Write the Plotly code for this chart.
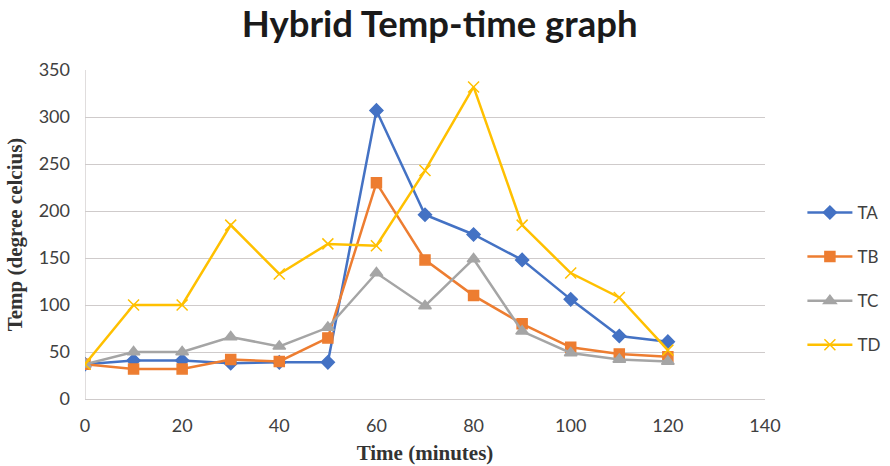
import plotly.graph_objects as go

time_min = [0, 10, 20, 30, 40, 50, 60, 70, 80, 90, 100, 110, 120]
TA = [37, 41, 41, 38, 39, 39, 307, 196, 175, 148, 106, 67, 61]
TB = [37, 32, 32, 42, 40, 65, 230, 148, 110, 80, 55, 48, 45]
TC = [37, 50, 50, 66, 56, 76, 134, 99, 149, 72, 49, 42, 40]
TD = [37, 100, 100, 185, 133, 165, 163, 243, 332, 185, 134, 108, 52]

series = [
    ("TA", TA, "#4472C4", "diamond", 10),
    ("TB", TB, "#ED7D31", "square", 10),
    ("TC", TC, "#A5A5A5", "triangle-up", 11),
    ("TD", TD, "#FFC000", "x-thin-open", 11),
]

fig = go.Figure()
for name, ys, color, sym, size in series:
    fig.add_trace(go.Scatter(
        x=time_min, y=ys, name=name, mode="lines+markers",
        legendgroup=name,
        line=dict(color=color, width=2.5),
        marker=dict(symbol=sym, size=size, color=color,
                    line=dict(color=color, width=1.5)),
    ))

fig.update_layout(
    width=890, height=466,
    paper_bgcolor="white", plot_bgcolor="white",
    margin=dict(l=85, r=125, t=70, b=67, autoexpand=False),
    title=dict(text="<b>Hybrid Temp-time graph</b>", x=0.494, xanchor="center",
               y=0.948, yanchor="middle",
               font=dict(family="Lato", size=36.5, color="#1a1a1a")),
    legend=dict(x=1.055, xanchor="left", y=0.365, yanchor="middle",
                font=dict(family="Lato", size=17, color="#404040"),
                tracegroupgap=19, itemwidth=45, bgcolor="rgba(0,0,0,0)"),
    xaxis=dict(range=[0, 140], tickvals=[0, 20, 40, 60, 80, 100, 120, 140],
               showgrid=False, zeroline=False, automargin=False,
               showline=False, ticks="", ticklabelstandoff=14,
               tickfont=dict(family="Lato", size=18, color="#404040"),
               title=dict(text="<b>Time (minutes)</b>", standoff=10,
                          font=dict(family="Liberation Serif", size=21, color="#333333"))),
    yaxis=dict(range=[0, 350], tickvals=[0, 50, 100, 150, 200, 250, 300, 350],
               showgrid=True, gridcolor="#CFCBCB", gridwidth=1.3,
               zeroline=True, zerolinecolor="#CFCBCB", zerolinewidth=1.3,
               showline=False, ticks="", ticklabelstandoff=14, automargin=False,
               tickfont=dict(family="Lato", size=18, color="#404040"),
               title=dict(text="<b>Temp (degree celcius)</b>", standoff=10,
                          font=dict(family="Liberation Serif", size=21, color="#333333"))),
)
fig.add_shape(type="line", xref="x", yref="y", x0=0, x1=0, y0=0, y1=350,
              line=dict(color="#CFCBCB", width=1.3), layer="below")

fig.write_html("out.html")
